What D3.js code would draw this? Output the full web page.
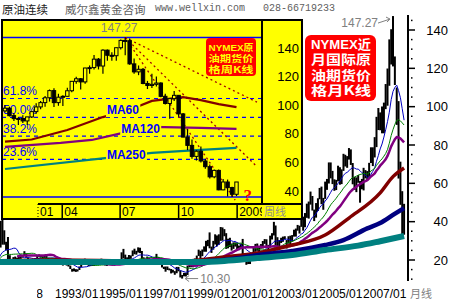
<!DOCTYPE html>
<html>
<head>
<meta charset="utf-8">
<script src="https://cdn.jsdelivr.net/npm/d3@7"></script>
<style>
  body { margin: 0; background: #fff; }
  svg { display: block; font-family: "Liberation Sans", Arial, sans-serif; }
</style>
</head>
<body>
<div id="chart"></div>
<script>
// ---- monthly NYMEX crude (continuous), from 1989/01 ----
const mClose = [
  17.9,17.9,20.2,20.4,19.8,20.3,19.7,18.8,20.1,20.0,19.9,21.8,
  22.6,21.5,20.3,18.4,17.4,17.1,20.7,27.3,39.5,35.2,28.9,28.4,
  21.5,19.2,19.6,20.9,21.2,20.3,21.6,22.3,22.2,23.3,21.5,19.1,
  18.9,18.7,19.5,20.9,21.9,21.8,21.8,21.5,22.0,21.0,20.3,19.5,
  20.3,20.4,20.3,20.5,19.6,18.6,17.6,18.1,18.0,16.8,15.4,14.2,
  15.2,14.4,14.9,16.4,18.1,19.4,19.2,17.6,18.4,17.3,18.0,17.8,
  18.4,18.5,19.1,20.4,18.9,17.4,17.6,17.8,17.5,17.6,18.2,19.6,
  17.7,19.5,21.5,21.2,19.8,20.9,20.4,22.3,24.4,23.3,24.0,25.9,
  24.2,20.3,20.4,19.8,20.9,19.8,20.1,19.6,21.2,21.1,19.2,17.6,
  17.2,15.4,15.6,15.4,15.2,14.2,14.2,13.4,16.1,14.4,11.2,12.1,
  12.8,12.3,16.8,18.7,16.8,19.3,20.5,22.1,24.5,21.8,24.6,25.6,
  27.6,30.4,26.9,25.7,29.0,32.5,27.4,33.1,30.8,32.7,34.4,26.8,
  28.7,27.4,26.3,28.5,28.4,26.3,26.4,27.2,23.4,21.2,19.4,19.8,
  19.5,21.7,26.3,27.3,25.3,26.9,27.0,28.9,30.5,27.2,26.9,31.2,
  33.5,36.6,31.0,25.8,29.6,30.2,30.5,31.6,29.2,29.1,30.4,32.5,
  33.1,36.2,35.8,37.4,39.9,37.1,43.8,42.1,49.6,51.8,49.1,43.5,
  48.2,52.0,55.4,49.7,52.0,56.5,60.6,68.9,66.2,59.8,57.3,61.0,
  67.9,61.4,66.6,71.9,71.3,73.9,74.4,70.3,62.9,58.7,63.1,61.1,
  58.1,61.8,65.9,65.7,64.0,70.7,78.2,74.0,81.7,94.5,88.7,96.0,
  91.8,101.8,101.6,113.5,127.4,140.0,124.1,115.5,100.6,67.8,54.4,44.6,
  41.7
];
const mHigh = [
  18.4,18.3,20.7,21.4,20.5,20.6,20.5,19.8,20.3,20.7,20.2,22.0,
  25.1,22.7,21.5,20.4,19.0,17.8,21.5,31.9,40.4,41.2,35.5,29.5,
  32.0,22.5,20.5,21.5,21.8,21.2,22.2,22.8,22.6,24.6,23.4,21.3,
  19.6,19.5,19.7,21.0,22.1,22.9,22.2,22.0,22.4,22.6,21.1,20.3,
  20.4,20.7,20.9,20.9,20.3,19.6,18.8,18.6,18.6,18.8,17.1,15.4,
  15.6,15.2,15.1,16.6,18.2,20.2,20.7,19.4,18.6,18.5,18.6,18.0,
  18.7,18.9,19.2,20.7,20.5,19.0,17.9,18.3,18.7,17.9,18.5,19.7,
  20.1,19.8,24.0,25.8,22.8,21.4,22.6,22.4,25.0,25.9,24.8,26.6,
  26.4,24.7,21.4,20.6,21.8,21.1,20.4,20.7,21.5,23.2,21.5,19.3,
  18.0,16.5,16.6,16.6,15.6,15.3,14.9,14.2,16.4,16.4,14.6,12.2,
  13.3,13.2,17.0,18.8,19.1,19.5,20.8,22.3,25.4,24.8,25.5,27.1,
  30.0,30.5,34.4,27.0,30.0,33.4,32.8,33.4,37.2,37.0,36.1,34.0,
  31.1,31.6,28.6,29.2,29.2,29.1,27.5,28.6,31.0,23.6,22.7,20.6,
  21.6,22.2,26.4,28.4,28.6,27.0,28.3,29.9,30.9,30.8,27.9,32.7,
  34.0,39.9,38.0,31.9,30.4,31.6,32.2,32.4,30.4,32.4,32.7,33.0,
  35.8,36.4,38.3,37.9,42.3,42.6,44.5,49.4,50.5,55.7,53.4,46.3,
  49.7,52.2,57.6,58.3,52.4,60.9,62.3,70.9,70.9,66.5,62.1,61.8,
  69.2,68.4,67.3,75.4,74.9,74.2,78.4,77.7,70.6,63.3,63.1,64.3,
  61.2,62.3,68.1,66.9,66.4,70.7,78.8,78.8,84.1,94.7,99.3,97.0,
  100.1,102.1,111.8,119.9,135.1,140.4,147.27,126.2,110.0,102.9,71.3,55.9,
  49.3
];
const mLow = [
  16.8,17.3,17.6,19.5,19.2,19.0,19.3,18.3,18.6,19.8,19.3,19.6,
  21.3,21.0,19.6,17.6,16.9,16.1,16.6,20.5,26.5,28.0,28.0,25.0,
  20.0,18.3,18.8,19.3,20.3,19.4,20.2,20.6,21.2,22.1,21.2,18.9,
  17.6,18.2,18.5,19.4,20.7,21.6,21.3,20.8,21.1,20.8,19.6,18.9,
  18.8,19.9,20.1,19.9,19.4,18.5,17.1,17.6,17.1,16.6,15.3,13.9,
  14.1,13.8,14.0,14.8,16.3,18.0,18.8,17.4,16.9,16.8,16.9,16.9,
  17.5,18.0,17.9,19.0,18.8,17.2,16.9,17.3,17.3,17.1,17.4,17.9,
  17.4,17.6,19.0,20.8,19.3,19.3,20.3,20.6,22.0,23.0,22.8,23.9,
  23.6,19.8,19.6,19.1,19.7,18.6,19.0,19.4,19.1,20.6,19.0,17.4,
  16.1,15.3,13.9,14.8,14.6,13.0,13.4,12.3,13.1,14.1,10.9,10.3,
  11.5,11.4,12.2,16.2,16.2,16.2,19.0,19.9,22.1,20.6,22.0,24.3,
  24.3,27.2,26.1,23.7,25.4,28.1,27.1,27.9,30.0,30.1,32.4,25.8,
  26.1,26.8,24.9,25.8,27.0,25.6,25.1,25.7,21.0,20.7,17.5,17.9,
  17.9,19.5,21.7,24.3,24.8,24.0,25.9,26.0,28.4,26.7,25.2,26.7,
  30.7,32.8,27.0,25.0,25.1,28.9,29.5,30.8,26.0,28.5,28.3,29.6,
  32.2,32.2,35.3,33.8,37.3,35.3,37.1,42.0,41.6,48.9,45.8,40.3,
  42.1,45.6,51.7,49.1,46.2,51.9,56.6,59.9,62.6,59.6,56.1,56.5,
  61.0,59.3,59.6,66.5,68.8,68.1,72.4,69.6,59.5,56.6,55.4,60.3,
  49.9,56.9,56.3,62.6,61.4,63.1,70.6,69.0,73.5,78.9,87.8,87.7,
  86.1,86.1,98.7,100.5,110.9,122.0,121.0,111.3,90.5,62.5,48.8,32.4,
  33.2
];

// long moving averages (month, price)
const ma60Dates = ["1989-01","1993-01","1995-03","1998-05","2000-11","2002-05","2003-12","2005-06","2006-07","2007-12","2008-07","2009-01"];
const ma60Vals = [19.0, 20.0, 19.8, 18.8, 21.6, 23.7, 27.8, 33.0, 41.9, 55.0, 63.5, 68.0];
const ma120Dates = ["1989-01","1995-03","1999-10","2001-07","2002-05","2003-12","2005-06","2006-04","2007-05","2007-12","2008-07","2009-01"];
const ma120Vals = [19.5, 19.2, 19.3, 21.0, 22.5, 24.7, 27.8, 30.4, 36.5, 39.3, 43.5, 47.1];
const ma250Dates = ["1989-01","1995-03","1999-10","2000-11","2002-05","2003-12","2005-06","2006-12","2007-12","2009-01"];
const ma250Vals = [19.0, 19.0, 19.0, 19.5, 21.0, 22.6, 25.2, 27.5, 29.8, 32.5];

const mainYTicks = [20, 40, 60, 80, 100, 120, 140];
const mainXLabels = ["1993/01","1995/01","1997/01","1999/01","2001/01","2003/01","2005/01","2007/01"];

// ---- weekly 2008 inset (week ending 2008-01-04 ... 2009-01-02) ----
const wOpen = [96.0,97.9,92.7,90.6,90.7,89.0,91.8,95.5,98.8,101.8,105.2,110.2,101.8,105.6,106.2,110.1,116.7,118.5,116.3,126.0,126.3,132.2,127.4,138.5,134.9,134.6,140.2,145.3,145.1,128.9,123.3,125.1,115.2,113.8,114.6,115.5,106.2,101.2,104.6,106.9,93.9,77.7,71.9,64.2,67.8,61.0,57.0,49.9,54.4,40.8,46.3,42.4,37.7];
const wHigh = [100.1,99.0,94.5,91.5,93.0,91.0,96.0,101.3,103.0,106.5,111.0,111.8,108.0,107.0,112.2,117.0,119.9,119.0,126.2,127.8,135.1,133.0,139.1,139.0,137.0,140.4,145.9,147.27,146.7,132.6,127.8,126.0,117.0,122.0,120.0,116.0,108.0,105.0,110.0,107.0,94.5,83.2,76.0,68.5,71.2,62.5,58.5,55.0,55.0,48.4,48.0,43.0,46.3];
const wLow = [95.0,92.1,89.0,86.1,87.5,86.1,91.0,94.0,97.2,99.0,102.5,98.7,99.6,99.5,106.0,109.0,115.0,110.9,115.0,122.0,125.0,125.0,122.0,131.0,131.0,131.0,139.0,135.0,128.2,122.0,121.0,114.6,111.3,112.0,113.0,105.5,100.5,90.5,103.0,92.0,77.6,68.6,62.5,61.3,60.0,55.5,48.8,49.0,40.5,40.5,36.2,35.8,36.5];
const wClose = [97.9,92.7,90.6,90.7,89.0,91.8,95.5,98.8,101.8,105.2,110.2,101.8,105.6,106.2,110.1,116.7,118.5,116.3,126.0,126.3,132.2,127.4,138.5,134.9,134.6,140.2,145.3,145.1,128.9,123.3,125.1,115.2,113.8,114.6,115.5,106.2,101.2,104.6,106.9,93.9,77.7,71.9,64.2,67.8,61.0,57.0,49.9,54.4,40.8,46.3,42.4,37.7,46.3];

// weekly MAs (week index, price)
const wMa60Idx = [0, 6, 14, 22, 29, 33, 40, 44, 48, 52];
const wMa60Val = [74.5, 76.0, 82.7, 91.7, 98.0, 103.0, 105.7, 103.6, 100.8, 98.7];
const wMa120Idx = [0, 12.5, 19.5, 25.5, 33, 44, 52];
const wMa120Val = [70.8, 73.6, 75.7, 79.9, 84.8, 84.1, 83.4];
const wMa250Idx = [0, 23, 33, 44, 52];
const wMa250Val = [55.4, 63.1, 66.6, 68.7, 70.1];

const fibHigh = 147.27, fibLow = 35.8;
const fibRatios = [0.236, 0.382, 0.5, 0.618];
const fibLabels = ["23.6%", "38.2%", "50.0%", "61.8%"];
// fan lines from the top: price drop per week, and where they stop (week index)
const fanRates = [1.525, 3.05, 4.6];
const fanEnds = [56.6, 56.6, 51.7];

const insetYTicks = [40, 60, 80, 100, 120, 140];
const insetXLabels = ["01", "04", "07", "10", "2009"];
const insetXDates = ["2008-01-01", "2008-04-01", "2008-07-01", "2008-10-01", "2009-01-01"];

// ================= drawing =================
const W = 450, H = 300;
const CJK = '"Noto Sans CJK SC", sans-serif';
const svg = d3.select("#chart").append("svg").attr("width", W).attr("height", H);
const defs = svg.append("defs");
defs.append("clipPath").attr("id", "mainClip").append("rect")
  .attr("x", 0).attr("y", 13).attr("width", 407).attr("height", 270);
defs.append("clipPath").attr("id", "lblClip").append("rect")
  .attr("x", 37).attr("y", 283).attr("width", 413).attr("height", 17);
defs.append("clipPath").attr("id", "insetClip").append("rect")
  .attr("x", 3).attr("y", 21).attr("width", 258).attr("height", 182);

// title row
svg.append("text").attr("x", 2).attr("y", 13.5).attr("font-family", CJK).attr("font-size", 11.5)
  .attr("fill", "#222").text("原油连续");
svg.append("text").attr("x", 65).attr("y", 13.5).attr("font-family", CJK).attr("font-size", 11.5)
  .attr("fill", "#606060").text("威尔鑫黄金咨询");
svg.append("text").attr("x", 155).attr("y", 11).attr("font-family", '"Liberation Mono", monospace')
  .attr("font-size", 10).attr("fill", "#606060").text("www.wellxin.com");
svg.append("text").attr("x", 263).attr("y", 11).attr("font-family", '"Liberation Mono", monospace')
  .attr("font-size", 10).attr("fill", "#606060").text("028-66719233");

// ---- main monthly chart ----
const parseM = d3.timeParse("%Y-%m");
const months = mClose.map((_, i) => d3.timeMonth.offset(new Date(1989, 0, 1), i));
const x = d3.scaleTime().domain([new Date(1999, 0, 1), new Date(2008, 6, 1)]).range([184, 393]);
const y = d3.scaleLinear().domain([20, 140]).range([260, 30]);

function movingAvg(n) {
  const out = [];
  for (let i = n - 1; i < mClose.length; i++) {
    out.push({ d: months[i], v: d3.mean(mClose.slice(i - n + 1, i + 1)) });
  }
  return out;
}
const mLine = d3.line().x(d => x(d.d)).y(d => y(d.v));
const mSmooth = d3.line().x(d => x(d.d)).y(d => y(d.v)).curve(d3.curveMonotoneX);

const plot = svg.append("g").attr("clip-path", "url(#mainClip)");

plot.selectAll("rect.bar").data(months).enter().append("rect")
  .attr("class", "bar")
  .attr("x", d => x(d) - 1)
  .attr("width", 2)
  .attr("y", (d, i) => y(mHigh[i]))
  .attr("height", (d, i) => Math.max(1, y(mLow[i]) - y(mHigh[i])))
  .attr("fill", "#000");

const thin = [
  { data: movingAvg(10), color: "#0000c0", w: 1 },
  { data: movingAvg(20), color: "#008000", w: 1 },
  { data: movingAvg(30), color: "#800080", w: 2.5 }
];
thin.forEach(s => {
  plot.append("path").datum(s.data).attr("d", mLine)
    .attr("fill", "none").attr("stroke", s.color).attr("stroke-width", s.w);
});
const thick = [
  { dates: ma60Dates, vals: ma60Vals, color: "#800000", w: 3.5 },
  { dates: ma120Dates, vals: ma120Vals, color: "#000080", w: 4.5 },
  { dates: ma250Dates, vals: ma250Vals, color: "#008080", w: 6 }
];
thick.forEach(s => {
  const pts = s.dates.map((d, i) => ({ d: parseM(d), v: s.vals[i] }));
  plot.append("path").datum(pts).attr("d", mSmooth)
    .attr("fill", "none").attr("stroke", s.color).attr("stroke-width", s.w);
});

// right axis
svg.append("line").attr("x1", 408).attr("x2", 408).attr("y1", 15).attr("y2", 281)
  .attr("stroke", "#000").attr("stroke-width", 2);
svg.selectAll("line.ytick").data(mainYTicks).enter().append("line")
  .attr("x1", 408).attr("x2", 415).attr("y1", d => y(d)).attr("y2", d => y(d))
  .attr("stroke", "#000").attr("stroke-width", 1.5);
svg.selectAll("rect.minor").data(d3.range(10, 150, 5).filter(v => v % 20 !== 0)).enter().append("rect")
  .attr("x", 411).attr("width", 1.5).attr("y", d => y(d) - 0.75).attr("height", 1.5).attr("fill", "#000");
svg.selectAll("text.ylab").data(mainYTicks).enter().append("text")
  .attr("x", 448).attr("y", d => y(d) + 4.5).attr("text-anchor", "end")
  .attr("font-size", 13).attr("fill", "#000").text(d => d);

// bottom labels
const lbl = svg.append("g").attr("clip-path", "url(#lblClip)");
lbl.append("text").attr("x", 43).attr("y", 298).attr("text-anchor", "end").attr("font-size", 12).text("1990/08");
lbl.selectAll("text.xl").data(mainXLabels).enter().append("text")
  .attr("x", d => x(d3.timeParse("%Y/%m")(d)) + 3).attr("y", 298)
  .attr("font-size", 12).attr("fill", "#000").text(d => d);
svg.append("text").attr("x", 410).attr("y", 298).attr("font-family", CJK).attr("font-size", 11)
  .attr("fill", "#808080").text("月线");

// peak and low marks
const pk = d3.maxIndex(mHigh), lo = d3.minIndex(mLow);
const px = x(months[pk]), py = y(mHigh[pk]);
svg.append("text").attr("x", px - 15).attr("y", py + 11).attr("text-anchor", "end")
  .attr("font-size", 12).attr("fill", "#808080").text(d3.format(".2f")(mHigh[pk]));
svg.append("path").attr("d", `M${px - 15},${py + 7}L${px - 3},${py + 3}M${px - 3},${py + 3}L${px - 7},${py + 1}M${px - 3},${py + 3}L${px - 6},${py + 6}`)
  .attr("stroke", "#808080").attr("fill", "none");
const lx = x(months[lo]), ly = y(mLow[lo]);
svg.append("path").attr("d", `M${lx + 3},${ly}L${lx + 16},${ly}M${lx + 3},${ly}L${lx + 7},${ly - 3}M${lx + 3},${ly}L${lx + 7},${ly + 3}`)
  .attr("stroke", "#808080").attr("fill", "none");
svg.append("text").attr("x", lx + 18).attr("y", ly + 4.5)
  .attr("font-size", 12).attr("fill", "#808080").text(d3.format(".2f")(mLow[lo]));

// multi-line label inside one text element
function boxText(parent, lines, cx, y0, pitch, size, width, color) {
  const t = parent.append("text").attr("text-anchor", "middle")
    .attr("font-family", CJK).attr("font-weight", "bold").attr("font-size", size).attr("fill", color);
  lines.forEach((ln, i) => {
    const row = t.append("tspan").attr("x", cx).attr("y", y0 + i * pitch)
      .attr("textLength", width).attr("lengthAdjust", "spacingAndGlyphs");
    if (ln[0]) row.append("tspan").attr("font-family", '"Liberation Sans", sans-serif').text(ln[0]);
    row.append("tspan").text(ln[1]);
  });
}

// main red box
svg.append("rect").attr("x", 305).attr("y", 35).attr("width", 71).attr("height", 66).attr("rx", 6)
  .attr("fill", "#ff0000");
boxText(svg, [["NYMEX", "近"], ["", "月国际原"], ["", "油期货价"], ["", "格月K线"]],
  341, 49, 15.3, 13, 60, "#fff");

// ---- inset weekly chart ----
const ix = d3.scaleLinear().domain([0, 52]).range([5, 236.5]);
const it = d3.scaleTime().domain([new Date(2008, 0, 2), new Date(2008, 11, 31)]).range([5, 236.5]);
const iy = d3.scaleLinear().domain([40, 140]).range([191, 48]);

const inset = svg.append("g");
inset.append("rect").attr("x", 2).attr("y", 20).attr("width", 300).attr("height", 199).attr("fill", "#ffff00");
const ip = inset.append("g").attr("clip-path", "url(#insetClip)");

// fib lines
[fibLow, fibHigh].forEach(v => {
  ip.append("line").attr("x1", 2).attr("x2", 262).attr("y1", iy(v)).attr("y2", iy(v))
    .attr("stroke", "#0000ff").attr("stroke-width", 1.5);
});
fibRatios.forEach((r, i) => {
  const v = fibLow + r * (fibHigh - fibLow);
  ip.append("line").attr("x1", 2).attr("x2", 262).attr("y1", iy(v)).attr("y2", iy(v))
    .attr("stroke", "#0000ff").attr("stroke-width", 1.2).attr("stroke-dasharray", "4,4");
  ip.append("text").attr("x", 3).attr("y", iy(v) - 3).attr("font-size", 12)
    .attr("fill", "#0000ff").text(fibLabels[i]);
});

// fan lines from the top
const topIdx = d3.maxIndex(wHigh);
fanRates.forEach((r, i) => {
  ip.append("line")
    .attr("x1", ix(topIdx)).attr("y1", iy(wHigh[topIdx]))
    .attr("x2", ix(fanEnds[i])).attr("y2", iy(wHigh[topIdx] - r * (fanEnds[i] - topIdx)))
    .attr("stroke", "#a00000").attr("stroke-width", 1.3).attr("stroke-dasharray", "2,3");
});

// weekly MAs
const wLine = d3.line().x(d => ix(d[0])).y(d => iy(d[1]));
[[wMa60Idx, wMa60Val, "#800000"], [wMa120Idx, wMa120Val, "#800080"], [wMa250Idx, wMa250Val, "#008080"]]
  .forEach(([ids, vals, c]) => {
    ip.append("path").datum(ids.map((d, i) => [d, vals[i]])).attr("d", wLine)
      .attr("fill", "none").attr("stroke", c).attr("stroke-width", 2.2);
  });

// MA labels with yellow backing
[["MA60", 22.9, 93.8], ["MA120", 26.1, 80.6], ["MA250", 22.9, 62.4]].forEach(([t, wi, v]) => {
  const g = ip.append("g");
  const tx = g.append("text").attr("x", ix(wi)).attr("y", iy(v)).attr("font-size", 12)
    .attr("font-weight", "bold").attr("fill", "#0000ff").text(t);
  const b = tx.node().getBBox();
  g.insert("rect", "text").attr("x", b.x - 1).attr("y", b.y).attr("width", b.width + 2)
    .attr("height", b.height).attr("fill", "#ffff00");
});

// weekly candles
const wk = d3.range(wClose.length);
ip.selectAll("line.wick").data(wk).enter().append("line")
  .attr("x1", i => ix(i)).attr("x2", i => ix(i))
  .attr("y1", i => iy(wHigh[i])).attr("y2", i => iy(wLow[i]))
  .attr("stroke", "#000").attr("stroke-width", 1.2);
ip.selectAll("rect.body").data(wk).enter().append("rect")
  .attr("x", i => ix(i) - 1.7).attr("width", 3.4)
  .attr("y", i => iy(Math.max(wOpen[i], wClose[i])))
  .attr("height", i => Math.max(1, Math.abs(iy(wOpen[i]) - iy(wClose[i]))))
  .attr("fill", i => wClose[i] >= wOpen[i] ? "#ffff00" : "#000")
  .attr("stroke", "#000").attr("stroke-width", 1);

// top value and question mark
inset.append("text").attr("x", ix(topIdx) - 6).attr("y", 32).attr("text-anchor", "middle")
  .attr("font-size", 12).attr("fill", "#808080").text(d3.format(".2f")(wHigh[topIdx]));
inset.append("text").attr("x", ix(wClose.length - 1) + 7).attr("y", iy(fibLow) + 4)
  .attr("font-family", '"Liberation Serif", serif').attr("font-weight", "bold")
  .attr("font-size", 17).attr("fill", "#ff0000").text("?");

// inset red box
inset.append("rect").attr("x", 206).attr("y", 38).attr("width", 50).attr("height", 38).attr("rx", 4)
  .attr("fill", "#ff0000");
boxText(inset, [["NYMEX", "原"], ["", "油期货价"], ["", "格周K线"]],
  231, 50.5, 11, 9.5, 45, "#ffff00");

// inset axes
inset.append("line").attr("x1", 262).attr("x2", 262).attr("y1", 21).attr("y2", 204)
  .attr("stroke", "#000").attr("stroke-width", 2);
inset.selectAll("text.iyl").data(insetYTicks).enter().append("text")
  .attr("x", 299).attr("y", d => iy(d) + 4.5).attr("text-anchor", "end")
  .attr("font-size", 13).attr("fill", "#000").text(d => d);
inset.append("line").attr("x1", 38).attr("x2", 302).attr("y1", 204).attr("y2", 204)
  .attr("stroke", "#000").attr("stroke-width", 2);
const tickXs = insetXDates.map(d => Math.max(38, it(d3.timeParse("%Y-%m-%d")(d))));
insetXLabels.forEach((t, i) => {
  inset.append("line").attr("x1", tickXs[i]).attr("x2", tickXs[i]).attr("y1", 204).attr("y2", 219)
    .attr("stroke", "#000").attr("stroke-width", i === 0 ? 1 : 1.5)
    .attr("stroke-dasharray", i === 0 ? "1,2" : null);
  inset.append("text").attr("x", tickXs[i] + 2).attr("y", 216).attr("font-size", 12)
    .attr("fill", "#000").text(t);
});
inset.append("rect").attr("x", 262).attr("y", 205).attr("width", 39).attr("height", 13).attr("fill", "#ffff00");
inset.append("text").attr("x", 264).attr("y", 216).attr("font-family", CJK).attr("font-size", 11)
  .attr("fill", "#909090").text("周线");
inset.append("rect").attr("x", 2).attr("y", 20).attr("width", 300).attr("height", 199)
  .attr("fill", "none").attr("stroke", "#000").attr("stroke-width", 2);
</script>
</body>
</html>
